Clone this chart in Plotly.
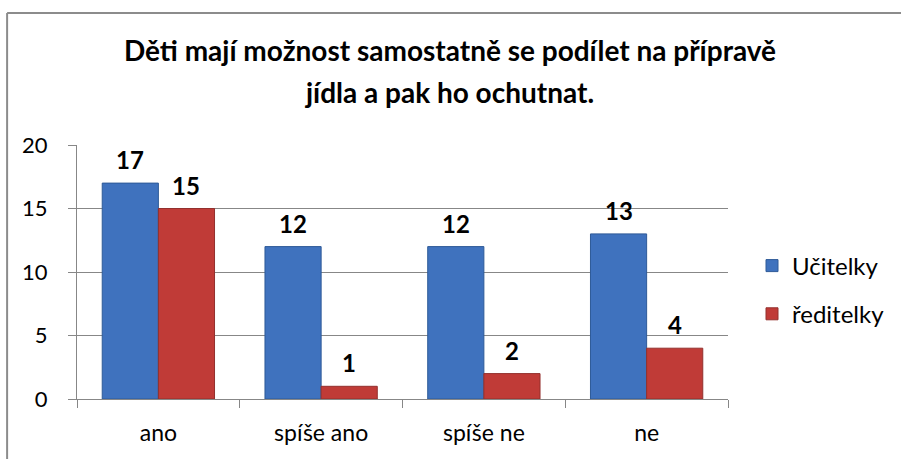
import plotly.graph_objects as go

categories = ["ano", "spíše ano", "spíše ne", "ne"]
ucitelky = [17, 12, 12, 13]
reditelky = [15, 1, 2, 4]
series_names = ["Učitelky", "ředitelky"]
title_lines = ["Děti mají možnost samostatně se podílet na přípravě", "jídla a pak ho ochutnat."]
y_ticks = [0, 5, 10, 15, 20]

FONT = "Lato, 'Open Sans', sans-serif"
BLUE = "#3F72BE"
RED = "#C03B37"

fig = go.Figure()
fig.add_trace(go.Bar(x=categories, y=ucitelky, name=series_names[0], legendgroup="a",
                     marker=dict(color=BLUE, line=dict(color="#2E5A98", width=1))))
fig.add_trace(go.Bar(x=categories, y=reditelky, name=series_names[1], legendgroup="b",
                     marker=dict(color=RED, line=dict(color="#93302D", width=1))))

annotations = []
for vals, shift in ((ucitelky, -28), (reditelky, 28)):
    for c, v in zip(categories, vals):
        annotations.append(dict(x=c, y=v, xref="x", yref="y", text=f"<b>{v}</b>",
                                showarrow=False, xshift=shift, yanchor="bottom", yshift=7,
                                font=dict(family=FONT, size=24, color="black")))

L, R, T, B = 77, 172, 145, 60
W, H = 901, 459
pw, ph = W - L - R, H - T - B

fig.update_layout(
    width=W, height=H,
    margin=dict(l=L, r=R, t=T, b=B),
    paper_bgcolor="white", plot_bgcolor="white",
    barmode="group", bargap=0.31, bargroupgap=0,
    title=dict(text="<span style='font-size:28px'><b>" + title_lines[0] + "</b></span><br>"
                    "<span style='font-size:28px'><b>" + title_lines[1] + "</b></span>",
               x=450 / W, xanchor="center", y=1 - 61 / H, yanchor="top",
               font=dict(family=FONT, size=32, color="black")),
    font=dict(family=FONT, size=23, color="black"),
    legend=dict(x=(752 - L) / pw, xanchor="left", y=(399 - 290) / ph, yanchor="middle",
                traceorder="grouped", tracegroupgap=14, font=dict(size=24, color="black"),
                bgcolor="rgba(0,0,0,0)"),
    xaxis=dict(showline=True, linecolor="#878787", linewidth=1, ticks="outside",
               tickson="boundaries", ticklen=8, tickcolor="#878787",
               tickfont=dict(size=23, color="black"), ticklabelstandoff=13),
    yaxis=dict(range=[0, 20], tickvals=y_ticks, showgrid=True, gridcolor="#878787", gridwidth=1,
               showline=True, linecolor="#878787", linewidth=1, ticks="outside", ticklen=8,
               tickcolor="#878787", zeroline=False, tickfont=dict(size=22, color="black"),
               ticklabelstandoff=16),
    annotations=annotations,
    shapes=[
        dict(type="line", xref="paper", yref="paper", x0=(7 - L) / pw, x1=(7 - L) / pw,
             y0=(H - B - 13) / ph, y1=(H - B - 470) / ph, line=dict(color="#8C8C8C", width=2)),
        dict(type="line", xref="paper", yref="paper", x0=(7 - L) / pw, x1=(910 - L) / pw,
             y0=(H - B - 13) / ph, y1=(H - B - 13) / ph, line=dict(color="#8C8C8C", width=2)),
    ],
)

fig.write_html("out.html", config={"displayModeBar": False},
               post_script="document.body.style.margin='0';document.body.style.padding='0';")
